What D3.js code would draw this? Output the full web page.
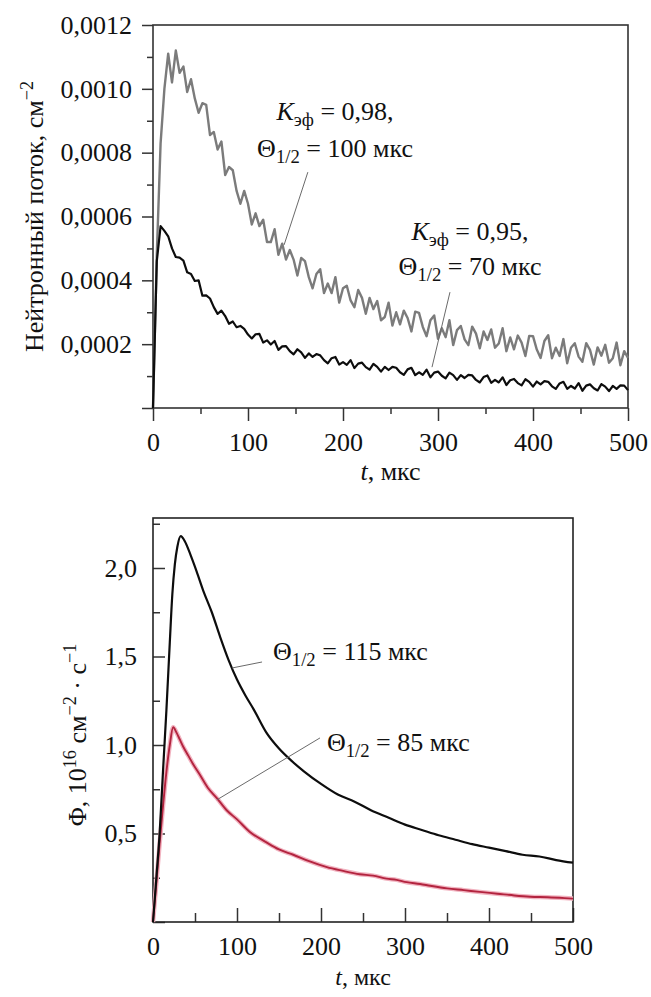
<!DOCTYPE html>
<html><head><meta charset="utf-8">
<script src="https://cdn.jsdelivr.net/npm/d3@7/dist/d3.min.js"></script>
<style>
body{margin:0;background:#fff}
svg text{font-family:'Liberation Serif','DejaVu Serif','Noto Serif',serif !important;fill:#111}
</style>
</head><body>
<svg id="c" width="651" height="997"></svg>
<script>
// ---------- DATA: top panel (neutron flux, units of 1e-4 cm^-2) ----------
const topUnit = 1e-4;
const topTime = [0,4,8,12,16,20,24,28,32,36,40,44,48,52,56,60,64,68,72,76,80,84,88,92,96,100,
104,108,112,116,120,124,128,132,136,140,144,148,152,156,160,164,168,172,176,180,184,188,192,196,200,
204,208,212,216,220,224,228,232,236,240,244,248,252,256,260,264,268,272,276,280,284,288,292,296,300,
304,308,312,316,320,324,328,332,336,340,344,348,352,356,360,364,368,372,376,380,384,388,392,396,400,
404,408,412,416,420,424,428,432,436,440,444,448,452,456,460,464,468,472,476,480,484,488,492,496,500];
// K_eff = 0.98 (grey)
const topGray = [0,4.8,8.3,10.0,11.1,10.2,11.2,10.5,10.7,9.9,10.3,9.7,9.25,9.55,9.5,8.55,8.65,8.1,8.35,7.3,
7.55,7.45,6.8,6.4,6.8,6.4,5.75,6.1,5.7,5.9,5.2,5.2,5.6,4.8,5.15,4.65,4.95,4.65,4.15,4.7,
4.6,4.1,3.75,4.2,4.35,3.6,3.9,3.6,4.1,3.3,3.75,3.83,3.37,3.16,3.7,3.45,2.95,3.45,3.1,3.35,
2.75,2.85,3.3,2.58,3.0,2.62,3.05,2.82,2.4,3.02,
2.98,2.54,2.25,2.75,2.9,2.17,2.5,2.22,2.75,1.97,2.44,2.57,2.15,1.97,2.55,2.33,1.87,2.4,2.13,2.46,
1.89,2.02,2.5,1.78,2.21,1.84,2.27,2.05,1.63,2.26,
2.25,1.83,1.57,2.1,2.28,1.56,1.89,1.63,2.16,1.4,1.89,2.03,1.61,1.45,2.03,1.82,1.36,1.9,1.64,1.98,
1.42,1.56,2.05,1.34,1.78,1.57];
// K_eff = 0.95 (black)
const topBlack = [0,4.6,5.7,5.55,5.38,5.0,4.73,4.71,4.62,4.25,4.2,3.98,4.0,3.52,3.53,3.43,3.16,2.95,3.05,2.88,
2.64,2.71,2.53,2.57,2.48,2.3,2.18,2.31,2.32,2.05,2.12,1.99,2.1,1.82,1.93,1.94,1.78,1.68,1.84,1.74,
1.57,1.71,1.6,1.69,1.65,1.5,1.4,1.56,1.6,1.36,1.44,1.35,1.5,1.25,1.39,1.42,1.28,1.2,1.38,1.29,
1.14,1.29,1.19,1.29,1.26,1.12,1.04,1.21,1.26,1.03,1.12,1.04,1.2,0.96,1.11,1.14,1.01,0.93,1.11,1.03,
0.88,1.03,0.94,1.04,1.02,0.88,0.8,0.97,1.02,0.79,0.88,0.8,0.96,0.72,0.87,0.91,0.78,0.71,0.9,0.82,
0.67,0.83,0.74,0.84,0.82,0.68,0.6,0.77,0.82,0.6,0.69,0.61,0.78,0.54,0.7,0.74,0.62,0.55,0.75,0.67,
0.53,0.69,0.6,0.71,0.7,0.56];
const topYMajor = [0,0.0002,0.0004,0.0006,0.0008,0.0010,0.0012];
const topYLabels = ["","0,0002","0,0004","0,0006","0,0008","0,0010","0,0012"];
const topYMinor = [0.0001,0.0003,0.0005,0.0007,0.0009,0.0011];
const xMajor = [0,100,200,300,400,500];
const xLabels = ["0","100","200","300","400","500"];
const xMinor = [50,150,250,350,450];

// ---------- DATA: bottom panel (Φ, 10^16 cm^-2 s^-1) ----------
const botTimeBlack = [0,4,8,12,16,20,23,26,29,33,38,45,52,60,70,80,90,100,110,120,135,150,165,180,200,
220,240,260,280,300,320,340,360,380,400,420,440,460,480,500];
const botBlack = [0,0.25,0.51,0.86,1.2,1.58,1.85,2.02,2.12,2.18,2.15,2.07,1.98,1.87,1.75,1.61,1.48,1.37,
1.28,1.2,1.07,0.98,0.91,0.85,0.78,0.72,0.68,0.63,0.59,0.55,0.52,0.49,0.465,0.44,0.42,0.4,0.38,0.37,0.35,0.335];
const botTimeRed = [0,4,8,12,16,20,24,28,32,36,42,48,56,65,76,88,100,115,135,150,167,185,207,225,246,262,
278,290,302,318,330,350,370,389,410,430,449,470,490,500];
const botRed = [0,0.22,0.45,0.66,0.85,1.0,1.1,1.07,1.03,0.99,0.94,0.89,0.83,0.76,0.7,0.63,0.58,0.51,0.45,
0.41,0.38,0.345,0.31,0.29,0.27,0.262,0.245,0.238,0.225,0.215,0.205,0.19,0.18,0.17,0.16,0.15,0.143,0.14,0.135,0.132];
const botYMajor = [0,0.5,1.0,1.5,2.0];
const botYLabels = ["","0,5","1,0","1,5","2,0"];
const botYMinor = [0.25,0.75,1.25,1.75,2.25];

// ---------- DRAWING ----------
const svg = d3.select("#c");
const FS = 26;
const FONT = "'Liberation Serif','DejaVu Serif','Noto Serif',serif";

function axisStyle(g){
  g.attr("font-family",FONT).attr("font-size",FS);
  g.select(".domain").remove();
  g.selectAll(".tick line").attr("stroke","#333").attr("stroke-width",1.5);
  g.selectAll(".tick text").attr("fill","#111");
}

// ===== TOP PANEL =====
const T = {l:153,r:628,t:25,b:408};
const xT = d3.scaleLinear().domain([0,500]).range([T.l,T.r]);
const yT = d3.scaleLinear().domain([0,0.0012]).range([T.b,T.t]);

const gT = svg.append("g");
gT.append("g").attr("transform",`translate(${T.l},0)`)
  .call(d3.axisLeft(yT).tickValues(topYMinor).tickSize(6).tickFormat(""))
  .call(axisStyle);
gT.append("g").attr("transform",`translate(${T.l},0)`)
  .call(d3.axisLeft(yT).tickValues(topYMajor).tickSize(11).tickPadding(10)
        .tickFormat((d,i)=>topYLabels[i]))
  .call(axisStyle);
gT.append("g").attr("transform",`translate(0,${T.b})`)
  .call(d3.axisBottom(xT).tickValues(xMinor).tickSize(6).tickFormat(""))
  .call(axisStyle);
const axT = gT.append("g").attr("transform",`translate(0,${T.b})`)
  .call(d3.axisBottom(xT).tickValues(xMajor).tickSize(13).tickPadding(8)
        .tickFormat((d,i)=>xLabels[i]))
  .call(axisStyle);
axT.selectAll(".tick text").attr("dy","0.85em");
gT.append("rect").attr("x",T.l).attr("y",T.t).attr("width",T.r-T.l).attr("height",T.b-T.t)
  .attr("fill","none").attr("stroke","#333").attr("stroke-width",1.6);

const lineT = d3.line().x((d,i)=>xT(topTime[i])).y(d=>yT(d*topUnit));
gT.append("path").datum(topGray).attr("d",lineT).attr("fill","none")
  .attr("stroke","#7b7b7b").attr("stroke-width",2.4).attr("stroke-linejoin","round");
gT.append("path").datum(topBlack).attr("d",lineT).attr("fill","none")
  .attr("stroke","#0d0d0d").attr("stroke-width",2.2).attr("stroke-linejoin","round");

function leader(g,xs,ys,p){
  g.append("line").attr("x1",xs(p[0])).attr("y1",ys(p[1])).attr("x2",xs(p[2])).attr("y2",ys(p[3]))
   .attr("stroke","#6a6a6a").attr("stroke-width",1);
}
leader(gT,xT,yT,[163,0.000739,138,0.000511]);
leader(gT,xT,yT,[312.6,0.000363,293.7,0.000128]);

function txt(g,x,y,anchor){
  return g.append("text").attr("x",x).attr("y",y).attr("text-anchor",anchor||"middle")
    .attr("font-size",FS).attr("font-family",FONT);
}
function kLine(g,x,y,val){
  const t = txt(g,x,y);
  t.append("tspan").attr("font-style","italic").text("K");
  t.append("tspan").attr("font-size",FS*0.72).attr("dy",6).text("эф");
  t.append("tspan").attr("dy",-6).text(" = " + val);
}
function thLine(g,x,y,val,anchor){
  const t = txt(g,x,y,anchor);
  t.append("tspan").text("Θ");
  t.append("tspan").attr("font-size",FS*0.72).attr("dy",6).text("1/2");
  t.append("tspan").attr("dy",-6).text(" = " + val);
}
kLine(gT, xT(191.6), yT(0.000902), "0,98,");
thLine(gT, xT(191.6), yT(0.000786), "100 мкс");
kLine(gT, xT(333.7), yT(0.000526), "0,95,");
thLine(gT, xT(333.7), yT(0.000417), "70 мкс");

const ytT = svg.append("text").attr("transform",`translate(43,${(75+358)/2}) rotate(-90)`)
  .attr("text-anchor","middle").attr("font-size",FS).attr("font-family",FONT);
ytT.append("tspan").text("Нейтронный поток, см");
ytT.append("tspan").attr("font-size",FS*0.7).attr("dy",-10).text("−2");
const xtT = txt(svg,(T.l+T.r)/2,480);
xtT.append("tspan").attr("font-style","italic").text("t");
xtT.append("tspan").text(", мкс");

// ===== BOTTOM PANEL =====
const B = {l:153,r:573,t:518,b:922};
const xB = d3.scaleLinear().domain([0,500]).range([B.l,B.r]);
const yB = d3.scaleLinear().domain([0,2.2825]).range([B.b,B.t]);
const gB = svg.append("g");
gB.append("g").attr("transform",`translate(${B.l},0)`)
  .call(d3.axisLeft(yB).tickValues(botYMinor).tickSize(-7).tickFormat(""))
  .call(axisStyle);
gB.append("g").attr("transform",`translate(${B.l},0)`)
  .call(d3.axisLeft(yB).tickValues(botYMajor).tickSize(-12).tickPadding(16)
        .tickFormat((d,i)=>botYLabels[i]))
  .call(axisStyle);
gB.append("g").attr("transform",`translate(0,${B.b})`)
  .call(d3.axisBottom(xB).tickValues(xMinor).tickSize(-9).tickFormat(""))
  .call(axisStyle);
const axB = gB.append("g").attr("transform",`translate(0,${B.b})`)
  .call(d3.axisBottom(xB).tickValues(xMajor).tickSize(-14).tickPadding(12)
        .tickFormat((d,i)=>xLabels[i]))
  .call(axisStyle);
axB.selectAll(".tick text").attr("dy","0.8em");
gB.append("rect").attr("x",B.l).attr("y",B.t).attr("width",B.r-B.l).attr("height",B.b-B.t)
  .attr("fill","none").attr("stroke","#222").attr("stroke-width",1.6);

const lineBR = d3.line().x((d,i)=>xB(botTimeRed[i])).y(d=>yB(d)).curve(d3.curveMonotoneX);
const lineBK = d3.line().x((d,i)=>xB(botTimeBlack[i])).y(d=>yB(d)).curve(d3.curveMonotoneX);
gB.append("path").datum(botRed).attr("d",lineBR).attr("fill","none")
  .attr("stroke","#f1b3c0").attr("stroke-width",4.5);
gB.append("path").datum(botRed).attr("d",lineBR).attr("fill","none")
  .attr("stroke","#b3243f").attr("stroke-width",1.9);
gB.append("path").datum(botBlack).attr("d",lineBK).attr("fill","none")
  .attr("stroke","#0d0d0d").attr("stroke-width",2.2);

leader(gB,xB,yB,[129.8,1.469,94,1.435]);
leader(gB,xB,yB,[198.8,1.04,76,0.69]);
thLine(gB, xB(142.9), yB(1.48), "115 мкс", "start");
thLine(gB, xB(207), yB(0.966), "85 мкс", "start");

const ytB = svg.append("text").attr("transform",`translate(86,735) rotate(-90)`)
  .attr("text-anchor","middle").attr("font-size",FS).attr("font-family",FONT);
ytB.append("tspan").text("Φ, 10");
ytB.append("tspan").attr("font-size",FS*0.7).attr("dy",-10).text("16");
ytB.append("tspan").attr("dy",10).text(" см");
ytB.append("tspan").attr("font-size",FS*0.7).attr("dy",-10).text("−2");
ytB.append("tspan").attr("dy",10).text(" · с");
ytB.append("tspan").attr("font-size",FS*0.7).attr("dy",-10).text("−1");
const xtB = txt(svg,(B.l+B.r)/2,985).attr("font-size",24);
xtB.append("tspan").attr("font-style","italic").text("t");
xtB.append("tspan").text(", мкс");
</script>
</body></html>
